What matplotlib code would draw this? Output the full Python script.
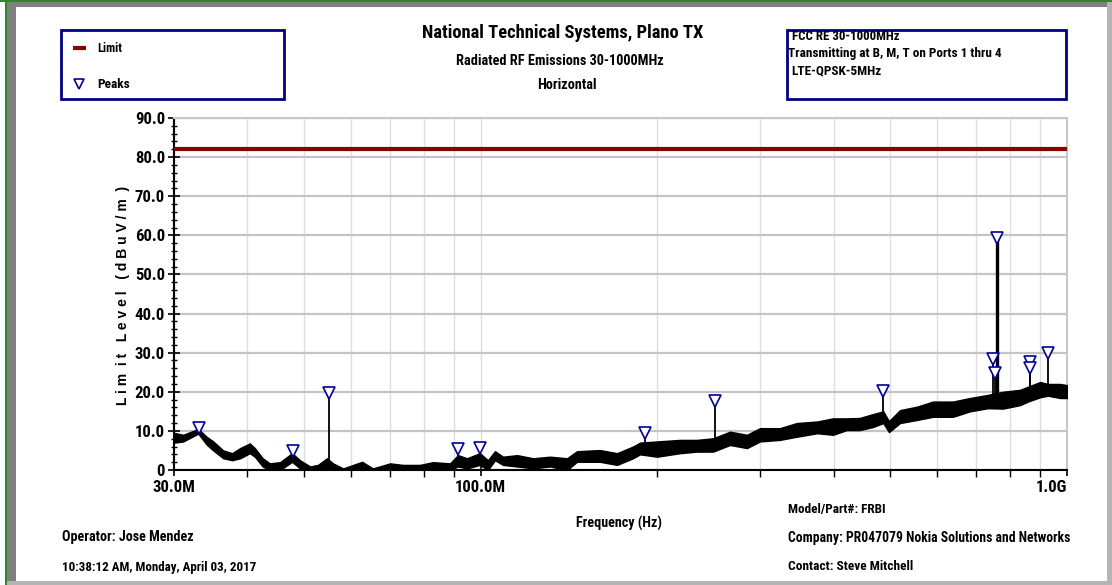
import numpy as np
import matplotlib
matplotlib.use("Agg")
import matplotlib.pyplot as plt
import matplotlib.font_manager as fm
from matplotlib.patches import Rectangle
from matplotlib.ticker import FixedLocator, NullFormatter

# ---- measured sweep envelope (frequency in MHz, min / max level in dBuV/m) ----
freq_mhz = [30.0, 31.1, 33.0, 34.1, 35.0, 36.4, 37.7, 38.9, 40.4, 41.2, 42.5, 43.7,
            45.5, 47.7, 49.2, 51.2, 52.8, 54.7, 56.0, 58.3, 62.8, 65.5, 70.1, 73.7,
            78.8, 82.9, 88.7, 91.5, 94.8, 99.7, 102.9, 105.8, 109.2, 115.4, 122.9,
            131.3, 140.4, 146.0, 159.8, 170.9, 181.9, 187.0, 200.0, 218.8, 233.9,
            249.1, 266.3, 284.6, 299.5, 324.0, 346.0, 375.0, 399.0, 421.0, 443.0,
            467.0, 486.0, 497.0, 519.0, 555.0, 591.0, 639.0, 683.0, 733.0, 778.0,
            832.0, 858.0, 900.0, 928.0, 973.0, 1000.0]
level_low = [7.0, 7.3, 9.3, 6.5, 5.0, 3.0, 2.5, 3.0, 4.3, 3.4, 0.9, 0.0,
             0.0, 2.1, 0.4, 0.0, 0.0, 0.4, 0.0, 0.0, 0.0, 0.0, 0.0, 0.0,
             0.0, 0.0, 0.0, 0.9, 0.4, 1.3, 0.0, 2.5, 1.3, 0.9, 0.4,
             0.9, 0.0, 2.1, 2.1, 1.3, 3.0, 4.0, 3.4, 4.3, 4.7,
             4.7, 6.4, 5.6, 7.3, 7.7, 8.5, 9.4, 9.0, 10.2, 10.2,
             11.0, 12.0, 9.7, 12.0, 12.8, 13.6, 13.6, 15.0, 15.8, 15.7,
             16.6, 17.5, 18.6, 19.0, 18.4, 18.4]
level_high = [9.5, 9.0, 10.5, 8.5, 7.3, 5.0, 4.3, 5.6, 6.8, 5.6, 3.0, 1.7,
              2.0, 4.3, 2.5, 0.9, 1.3, 3.0, 1.7, 0.4, 2.1, 0.4, 1.7, 1.3,
              1.3, 2.0, 1.7, 3.8, 3.0, 4.3, 2.5, 4.8, 3.4, 3.8, 3.0,
              3.4, 3.0, 4.8, 5.1, 4.3, 6.0, 7.0, 7.3, 7.7, 7.7,
              8.1, 9.8, 9.0, 10.7, 10.7, 12.0, 12.4, 13.2, 13.2, 13.3,
              14.3, 15.0, 12.5, 15.3, 16.2, 17.5, 17.5, 18.4, 19.2, 20.0,
              20.5, 21.3, 22.5, 22.0, 22.0, 21.7]

# ---- peak markers ----
peak_mhz = [33.1, 47.9, 55.1, 91.4, 99.9, 190.8, 251.0, 484.6, 747.0, 753.0,
            759.0, 864.0, 866.0, 928.0]
peak_db = [10.7, 4.9, 19.8, 5.3, 5.7, 9.4, 17.7, 20.2, 28.3, 24.7,
           59.4, 27.7, 26.0, 29.8]

# ---- limit line ----
limit_mhz = [30.0, 1000.0]
limit_db = [82.0, 82.0]

# ---- axis ticks ----
x_major_mhz = [30.0, 100.0, 1000.0]
x_major_labels = ["30.0M", "100.0M", "1.0G"]
x_minor_mhz = [40, 50, 60, 70, 80, 90, 200, 300, 400, 500, 600, 700, 800, 900]
y_major = [0, 10, 20, 30, 40, 50, 60, 70, 80, 90]
y_major_labels = ["0", "10.0", "20.0", "30.0", "40.0", "50.0", "60.0", "70.0", "80.0", "90.0"]


# ---- fonts: prefer a narrow bold sans, fall back to a regular bold sans ----
def _is_bold(f):
    w = f.weight
    if isinstance(w, str):
        return w.lower() in ("bold", "heavy", "black", "demibold", "semibold", "extra bold")
    return w >= 600


def _is_narrow(f):
    s = f.stretch
    text = (f.name + " " + f.fname).lower()
    if "narrow" in text or "condensed" in text:
        return True
    if isinstance(s, str):
        return "condensed" in s
    return s < 500


def pick_font():
    order = ["liberation sans narrow", "arial narrow", "nimbus sans narrow",
             "roboto condensed", "open sans condensed", "noto sans", "dejavu sans"]
    cands = [f for f in fm.fontManager.ttflist
             if _is_bold(f) and _is_narrow(f) and f.style == "normal"
             and "mono" not in f.name.lower() and "serif" not in f.name.lower().replace("sans", "")]
    for key in order:
        for f in cands:
            if key in f.name.lower() or key.replace(" ", "") in f.fname.lower():
                return fm.FontProperties(fname=f.fname)
    if cands:
        return fm.FontProperties(fname=cands[0].fname)
    return fm.FontProperties(family="Liberation Sans", weight="bold")


BASE_FP = pick_font()
WIDE_FP = fm.FontProperties(family="Liberation Sans", weight="bold")


def fp(size, base=None):
    p = (base or BASE_FP).copy()
    p.set_size(size)
    return p


W, H = 1112, 585
fig = plt.figure(figsize=(W / 100, H / 100), dpi=100)
fig.patch.set_facecolor("white")
renderer = fig.canvas.get_renderer()


def fit(t, target_px, max_size=None):
    """Scale a text's font so its rendered width matches target_px."""
    bb = t.get_window_extent(renderer)
    if bb.width > 0:
        size = t.get_fontsize() * target_px / bb.width
        if max_size:
            size = min(size, max_size)
        t.set_fontsize(size)
    return t


# background layer in pixel coordinates for frame and annotations
bg = fig.add_axes([0, 0, 1, 1], zorder=0)
bg.set_xlim(0, W)
bg.set_ylim(H, 0)
bg.axis("off")

# window frame: green edge plus grey bevel
bg.add_patch(Rectangle((0, 0), W, 2, color="#2a8a2a", lw=0))
bg.add_patch(Rectangle((5, 0), 1.6, H, color="#2a8a2a", lw=0))
bg.add_patch(Rectangle((6.6, 2), W, 5, color="#808080", lw=0))
bg.add_patch(Rectangle((6.6, 2), 9.5, H, color="#808080", lw=0))
bg.add_patch(Rectangle((6.6, 581), W, 4, color="#b4b4b4", lw=0))
bg.add_patch(Rectangle((1107, 2), 5, H, color="#b4b4b4", lw=0))

# legend box
bg.add_patch(Rectangle((61, 30), 223, 69, fill=False, edgecolor="#000080", lw=2))
bg.plot([73, 86], [48, 48], color="#8b0000", lw=3, solid_capstyle="butt")
bg.plot([79], [84], marker="v", ms=7, mfc="white", mec="#000099", mew=1.2, ls="none")
fit(bg.text(97, 49, "Limit", fontproperties=fp(10), va="center", ha="left"), 25, 12)
fit(bg.text(97, 85, "Peaks", fontproperties=fp(10), va="center", ha="left"), 33, 12)

# test description box
bg.add_patch(Rectangle((787, 30), 279, 69, fill=False, edgecolor="#000080", lw=2))
fit(bg.text(792, 37, "FCC RE 30-1000MHz", fontproperties=fp(9), va="center"), 108, 10)
fit(bg.text(788, 54, "Transmitting at B, M, T on Ports 1 thru 4", fontproperties=fp(9),
            va="center"), 215, 10)
fit(bg.text(791, 71, "LTE-QPSK-5MHz", fontproperties=fp(9), va="center"), 91, 10)

# titles
fit(bg.text(563, 33, "National Technical Systems, Plano TX", fontproperties=fp(13),
            ha="center", va="center"), 280, 14)
sub = fit(bg.text(560, 61, "Radiated RF Emissions 30-1000MHz", fontproperties=fp(10),
                  ha="center", va="center"), 207, 11)
bg.text(567, 85, "Horizontal", fontproperties=fp(sub.get_fontsize()), ha="center", va="center")

# axis titles
fit(bg.text(619, 523, "Frequency (Hz)", fontproperties=fp(9.5), ha="center", va="center"), 86, 11)
bg.text(123, 295, "L i m  i t   L e v e l   ( d B u V / m  )", fontproperties=fp(10, WIDE_FP),
        ha="center", va="center", rotation=90)

# footer
foot = [(62, 537, "Operator: Jose Mendez", 132),
        (62, 567, "10:38:12 AM, Monday, April 03, 2017", 195),
        (788, 509, "Model/Part#: FRBI", 98),
        (788, 538, "Company: PR047079 Nokia Solutions and Networks", 282),
        (788, 566, "Contact: Steve Mitchell", 126)]
for x, y, s, w in foot:
    fit(bg.text(x, y, s, fontproperties=fp(9), va="center", ha="left"), w, 10.5)

# ---- main plot ----
ax = fig.add_axes([174 / W, (H - 470) / H, 893 / W, 352 / H], zorder=1)
ax.set_facecolor("none")

f_hz = np.array(freq_mhz) * 1e6
lo = np.array(level_low)
hi = np.array(level_high)
pk_hz = np.array(peak_mhz) * 1e6
pk_db = np.array(peak_db)

ax.set_xscale("log")
ax.set_xlim(30e6, 1e9)
ax.set_ylim(0, 90)

ax.xaxis.set_major_locator(FixedLocator(np.array(x_major_mhz) * 1e6))
ax.xaxis.set_minor_locator(FixedLocator(np.array(x_minor_mhz) * 1e6))
ax.set_xticklabels(x_major_labels)
ax.xaxis.set_minor_formatter(NullFormatter())
ax.set_yticks(y_major)
ax.set_yticklabels(y_major_labels)
ax.yaxis.set_minor_locator(FixedLocator(np.arange(0, 91, 2)))
ax.grid(which="both", axis="x", color="#dedede", lw=1)
ax.grid(which="major", axis="y", color="#c4c4c4", lw=1.6)
ax.set_axisbelow(True)

for s in ("left", "bottom"):
    ax.spines[s].set_color("black")
    ax.spines[s].set_linewidth(1.5)
for s in ("top", "right"):
    ax.spines[s].set_color("#c8c8c8")
    ax.spines[s].set_linewidth(1.5)

# tick label size chosen so "90.0" spans about 30 px
probe = fit(bg.text(0, 0, "90.0", fontproperties=fp(12)), 30, 15)
tick_size = probe.get_fontsize()
probe.remove()

ax.tick_params(axis="y", which="major", direction="inout", length=9, width=1.2, pad=2)
ax.tick_params(axis="y", which="minor", direction="inout", length=5, width=1)
ax.tick_params(axis="x", which="major", direction="inout", length=9, width=1.2, pad=3)
ax.tick_params(axis="x", which="minor", direction="out", length=5, width=1)
for lab in ax.get_yticklabels() + ax.get_xticklabels():
    lab.set_fontproperties(fp(tick_size))
ax.get_xticklabels()[-1].set_horizontalalignment("right")

# limit
ax.plot(np.array(limit_mhz) * 1e6, limit_db, color="#8b0000", lw=3, zorder=3,
        solid_capstyle="butt")

# sweep envelope
ax.fill_between(f_hz, lo, hi, color="black", edgecolor="black", lw=1.0, zorder=3)

# peak spikes and markers
base = np.interp(np.log10(pk_hz), np.log10(f_hz), lo)
widths = np.where(pk_db > 40, 2.4, 1.3)
ax.vlines(pk_hz, base, pk_db, colors="black", linewidths=widths, zorder=3)
ax.plot(pk_hz, pk_db, marker="v", ms=8, mfc="white", mec="#000099", mew=1.2,
        ls="none", zorder=4, clip_on=False)

fig.savefig("out.png", dpi=100)
